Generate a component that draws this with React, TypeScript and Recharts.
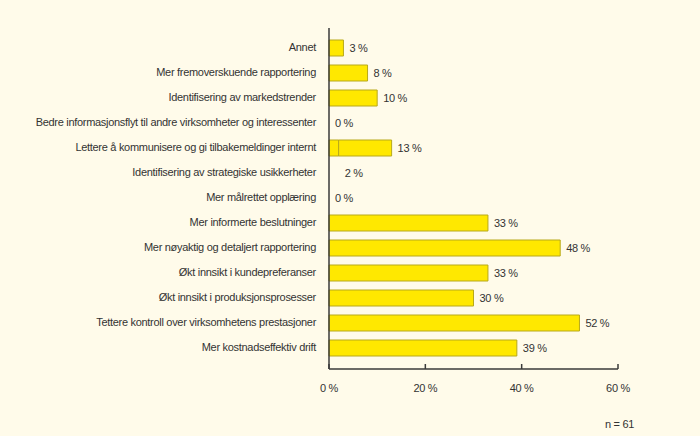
import { BarChart, Bar, XAxis, YAxis, LabelList, Cell } from 'recharts';

const categories = [
  'Annet',
  'Mer fremoverskuende rapportering',
  'Identifisering av markedstrender',
  'Bedre informasjonsflyt til andre virksomheter og interessenter',
  'Lettere å kommunisere og gi tilbakemeldinger internt',
  'Identifisering av strategiske usikkerheter',
  'Mer målrettet opplæring',
  'Mer informerte beslutninger',
  'Mer nøyaktig og detaljert rapportering',
  'Økt innsikt i kundepreferanser',
  'Økt innsikt i produksjonsprosesser',
  'Tettere kontroll over virksomhetens prestasjoner',
  'Mer kostnadseffektiv drift',
];
const values = [3, 8, 10, 0, 13, 2, 0, 33, 48, 33, 30, 52, 39];
// the small 2 % bar shows up inside the 13 % row in the original, not in its own row
const leadSegment = [0, 0, 0, 0, 2, 0, 0, 0, 0, 0, 0, 0, 0];
const hiddenRows = [5];
const xTicks = [0, 20, 40, 60];

const data = categories.map((name, i) => ({
  name,
  value: values[i],
  lead: leadSegment[i],
  rest: values[i] - leadSegment[i],
}));

const BG = '#fffbea';
const FILL = '#ffe800';
const EDGE = '#b8a91a';
const INK = '#333333';
const FONT = '"Liberation Sans", Arial, sans-serif';
const textStyle = { fontSize: 11, fill: INK, fontFamily: FONT, letterSpacing: -0.3 };

function CategoryTick({ x, y, payload }: any) {
  return (
    <text x={x} y={y} dy="0.355em" textAnchor="end" style={textStyle}>
      {payload.value}
    </text>
  );
}

export default function App() {
  return (
    <div style={{ position: 'absolute', left: 0, top: 0, width: 700, height: 436, background: BG, fontFamily: FONT }}>
      <BarChart
        width={700}
        height={436}
        data={data}
        layout="vertical"
        margin={{ top: 28, right: 82, bottom: 37, left: 0 }}
        barSize={16}
      >
        <XAxis
          type="number"
          domain={[0, 60]}
          ticks={xTicks}
          height={30}
          tickFormatter={(v) => `${v} %`}
          stroke="#3a3a3a"
          strokeWidth={1.5}
          tickSize={-5}
          tickMargin={20}
          tick={textStyle}
        />
        <YAxis
          type="category"
          dataKey="name"
          width={329}
          interval={0}
          stroke="#3a3a3a"
          strokeWidth={1.5}
          tickLine={false}
          tickSize={0}
          tickMargin={13}
          padding={{ top: 7, bottom: 9 }}
          tick={<CategoryTick />}
        />
        <Bar dataKey="lead" stackId="a" fill={FILL} stroke={EDGE} strokeWidth={1} isAnimationActive={false} />
        <Bar
          dataKey="rest"
          stackId="a"
          fill={FILL}
          stroke={EDGE}
          strokeWidth={1}
          minPointSize={0.01}
          isAnimationActive={false}
        >
          {data.map((d, i) => {
            const hide = hiddenRows.includes(i) || d.value === 0;
            return <Cell key={d.name} fill={hide ? 'none' : FILL} stroke={hide ? 'none' : EDGE} />;
          })}
          <LabelList
            dataKey="value"
            position="right"
            offset={6}
            formatter={(v) => `${v} %`}
            style={textStyle}
          />
        </Bar>
      </BarChart>
      <div style={{ position: 'absolute', left: 605, top: 418, fontSize: 11, letterSpacing: -0.3, color: INK }}>n = 61</div>
    </div>
  );
}
